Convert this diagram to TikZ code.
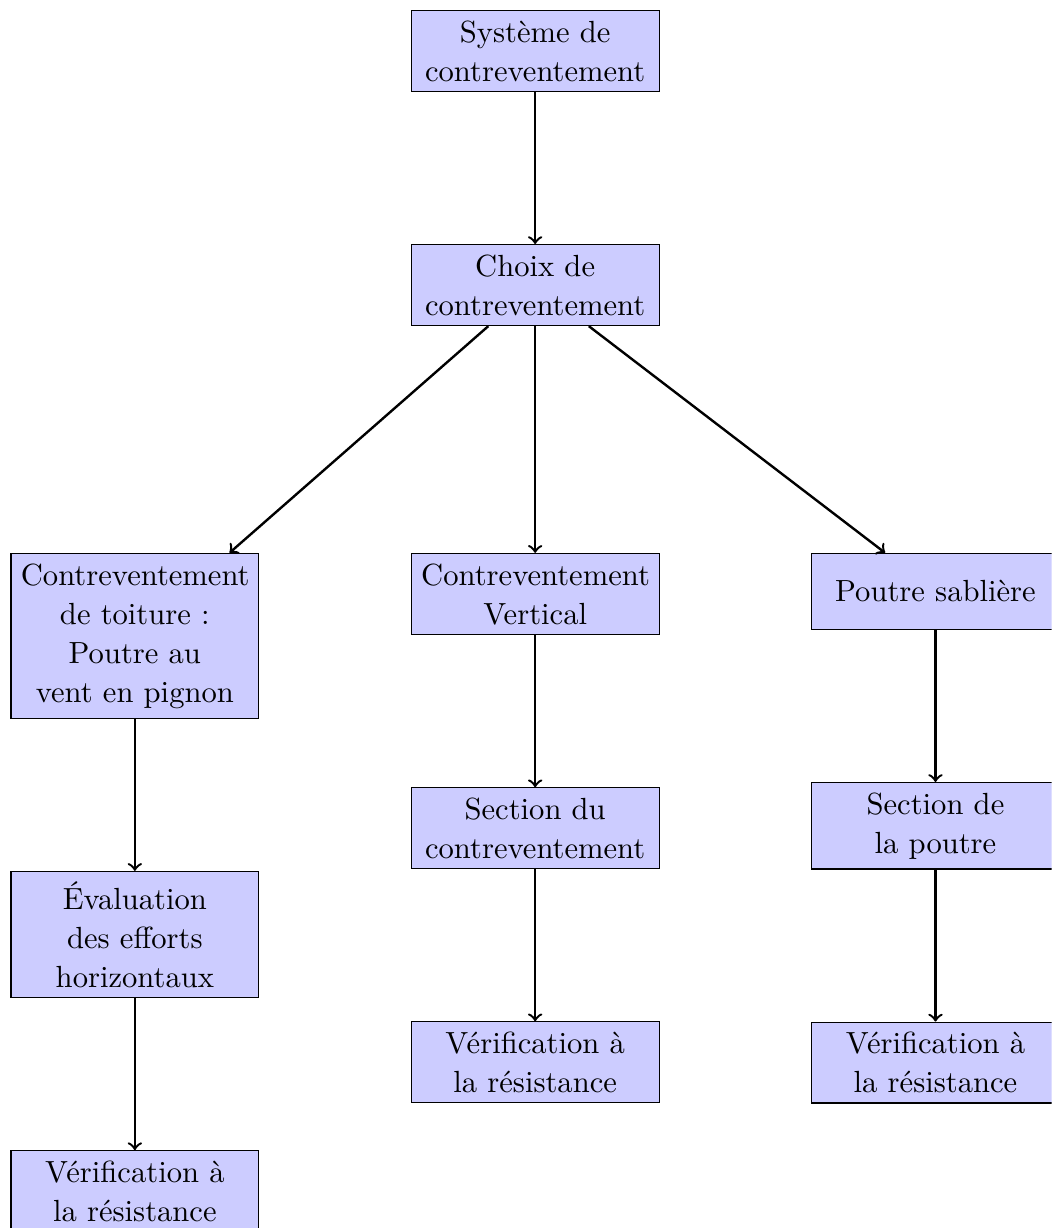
\documentclass[tikz,border=0pt]{standalone}
\usepackage{tikz}
\usetikzlibrary{positioning}

\begin{document}
\begin{tikzpicture}[
  bloc/.style={draw, fill=blue!20, text width=2.67cm, align=center, minimum height=0.89cm, font={\fontsize{10.2}{13}\selectfont}},
  fleche/.style={->, thick},
  node distance=1.78cm
]
\clip (-6.27,0.117) rectangle (6.05,-14.27);
\node[bloc, anchor=north] (systeme) at (0,0) {Système de\\ contreventement};
\node[bloc, below=of systeme] (choix) {Choix de\\ contreventement};
% les trois branches
\node[bloc, anchor=north] (toiture) at (-4.69,-6.36) {Contreventement\\ de toiture :\\ Poutre au\\ vent en pignon};
\node[bloc, anchor=north] (vertical) at (0,-6.36) {Contreventement\\ Vertical};
\node[bloc, anchor=north] (sabliere) at (4.69,-6.36) {Poutre sablière};
\node[bloc, below=of toiture] (efforts) {Évaluation\\ des efforts\\ horizontaux};
\node[bloc, below=of efforts] (verifA) {Vérification à\\ la résistance};
\node[bloc, below=of vertical] (sectionC) {Section du\\ contreventement};
\node[bloc, below=of sectionC] (verifB) {Vérification à\\ la résistance};
\node[bloc, below=of sabliere] (sectionP) {Section de\\ la poutre};
\node[bloc, below=of sectionP] (verifC) {Vérification à\\ la résistance};
\draw[fleche] (systeme) -- (choix);
\draw[fleche] (choix) -- (toiture);
\draw[fleche] (choix) -- (vertical);
\draw[fleche] (choix) -- (sabliere);
\draw[fleche] (toiture) -- (efforts);
\draw[fleche] (efforts) -- (verifA);
\draw[fleche] (vertical) -- (sectionC);
\draw[fleche] (sectionC) -- (verifB);
\draw[fleche] (sabliere) -- (sectionP);
\draw[fleche] (sectionP) -- (verifC);
\end{tikzpicture}
\end{document}
